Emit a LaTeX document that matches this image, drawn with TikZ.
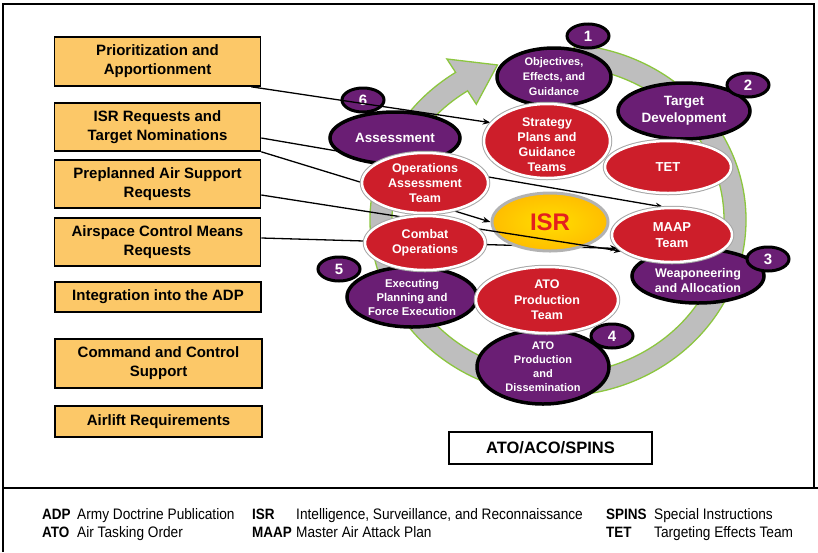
\documentclass[tikz,border=0pt]{standalone}
\usepackage{fontspec}
\setmainfont{Liberation Sans}
\newfontfamily\legendfont[FakeStretch=0.9]{Liberation Sans}
\usetikzlibrary{shapes.geometric,arrows.meta,calc}

\definecolor{boxfill}{RGB}{252,200,104}
\definecolor{purp}{RGB}{106,30,116}
\definecolor{teamred}{RGB}{205,30,42}
\definecolor{isryellow}{RGB}{255,200,0}
\definecolor{isrtext}{RGB}{228,32,30}
\definecolor{ringgray}{RGB}{190,190,190}
\definecolor{ringgreen}{RGB}{140,198,63}

\pgfdeclarelayer{ring}
\pgfdeclarelayer{low}
\pgfdeclarelayer{purple}
\pgfdeclarelayer{yel}
\pgfdeclarelayer{mid}
\pgfsetlayers{ring,low,purple,yel,mid,main}

\tikzset{
	inbox/.style={draw, line width=1.6, fill=boxfill, minimum width=206, minimum height=49,
		inner sep=0, align=center, font=\fontsize{15}{19}\selectfont\bfseries},
	stage/.style={ellipse, draw=black, line width=3.5, fill=purp, inner sep=0},
	stagetext/.style={text=white, align=center, inner sep=0, font=\bfseries\fontsize{12.5}{15}\selectfont},
	team/.style={ellipse, draw=white, line width=2.5, fill=teamred, inner sep=0,
		preaction={draw=black!35, line width=4.5}},
	teamtext/.style={text=white, align=center, inner sep=0, font=\bfseries\fontsize{12.5}{15}\selectfont},
	badge/.style={ellipse, draw=black, line width=3, fill=purp, minimum width=42, minimum height=24,
		inner sep=0, text=white, font=\bfseries\fontsize{15}{15}\selectfont},
	feed/.style={line width=1.3, -{Stealth[length=8pt,width=6pt]}},
	abbr/.style={anchor=base west, inner sep=0, font=\legendfont\bfseries\fontsize{15}{15}\selectfont},
	expl/.style={anchor=base west, inner sep=0, font=\legendfont\fontsize{15.2}{15}\selectfont}
}

\begin{document}
\begin{tikzpicture}[x=1pt,y=-1pt]
	\useasboundingbox (0,0) rectangle (818,552);
	% frame
		\draw[line width=2] (3,552) -- (3,4) -- (814,4) -- (814,488);
		\draw[line width=2.5] (3,488) -- (818,488);
	% cycle arrow
		\coordinate (ctr) at (558,220);
		\begin{pgfonlayer}{ring}
		\filldraw[fill=ringgray, draw=ringgreen, line width=1.3]
			($(ctr)+(275:188 and 176)$) arc[start angle=275, end angle=597, x radius=188, y radius=176]
			-- ($(ctr)+(597:204 and 192)$) -- ($(ctr)+(610:177 and 165)$) -- ($(ctr)+(597:150 and 138)$)
			-- ($(ctr)+(597:166 and 154)$) arc[start angle=597, end angle=275, x radius=166, y radius=154] -- cycle;
		\end{pgfonlayer}
	% input boxes
		\node[inbox] (prio) at (157.5,61.5) {Prioritization and\\Apportionment};
		\node[inbox, minimum height=48] (isrreq) at (157.5,127) {ISR Requests and\\Target Nominations};
		\node[inbox, minimum height=48] (preplan) at (157.5,184) {Preplanned Air Support\\Requests};
		\node[inbox, minimum height=48] (airspace) at (157.5,242) {Airspace Control Means\\Requests};
		\node[inbox, minimum height=30] (adp) at (158,297) {Integration into the ADP};
		\node[inbox, minimum width=207] (ctrl) at (158.5,363.5) {Command and Control\\Support};
		\node[inbox, minimum width=207, minimum height=31] (airlift) at (158.5,421.5) {Airlift Requirements};
	% phases
		\begin{pgfonlayer}{purple}
		\node[stage, minimum width=114, minimum height=58,
			label={[stagetext, font=\bfseries\fontsize{11}{15}\selectfont]center:{Objectives,\\Effects, and\\Guidance}}] (obj) at (554,77) {};
		\node[stage, minimum width=132, minimum height=56,
			label={[stagetext, font=\bfseries\fontsize{13.5}{17}\selectfont]center:{Target\\Development}}] (tgtdev) at (684,111) {};
		\node[stage, minimum width=132, minimum height=54,
			label={[stagetext, yshift=-5pt]center:{Weaponeering\\and Allocation}}] (weap) at (698,276) {};
		\node[stage, minimum width=132, minimum height=74,
			label={[stagetext, font=\bfseries\fontsize{11}{14}\selectfont]center:{ATO\\Production\\and\\Dissemination}}] (atodis) at (543,367) {};
		\node[stage, minimum width=130, minimum height=60,
			label={[stagetext, font=\bfseries\fontsize{11.3}{14}\selectfont]center:{Executing\\Planning and\\Force Execution}}] (exec) at (412,297) {};
		\node[stage, minimum width=130, minimum height=52,
			label={[stagetext, font=\bfseries\fontsize{13.5}{15}\selectfont]center:{Assessment}}] (assess) at (395,138) {};
		% numbers
		\node[badge] (b1) at (588,36) {1};
		\node[badge] (b2) at (748,85) {2};
		\node[badge] (b3) at (768,259) {3};
		\node[badge] (b4) at (612,336) {4};
		\node[badge] (b5) at (339,269) {5};
		\node[badge] (b6) at (363,100) {6};
		\end{pgfonlayer}
	% ISR
		\begin{pgfonlayer}{yel}
		\node[ellipse, draw=black!30, line width=3, inner color=isryellow!60!yellow, outer color=isryellow!85!orange,
			minimum width=116, minimum height=58, inner sep=0, text=isrtext,
			font=\bfseries\fontsize{24}{24}\selectfont] (isr) at (550,222) {ISR};
		\end{pgfonlayer}
	% teams
		\node[team, minimum width=126, minimum height=74,
			label={[teamtext, yshift=-4pt]center:{Strategy\\Plans and\\Guidance\\Teams}}] (strat) at (547,141) {};
		\node[team, minimum width=126, minimum height=52,
			label={[teamtext, font=\bfseries\fontsize{13}{15}\selectfont]center:{TET}}] (tet) at (668,167) {};
		\node[team, minimum width=126, minimum height=60,
			label={[teamtext]center:{Operations\\Assessment\\Team}}] (opsassess) at (425,183) {};
		\node[team, minimum width=120, minimum height=54,
			label={[teamtext]center:{Combat\\Operations}}] (combat) at (425,243) {};
		\node[team, minimum width=120, minimum height=54,
			label={[teamtext, font=\bfseries\fontsize{13}{16}\selectfont]center:{MAAP\\Team}}] (maap) at (672,235) {};
		\node[team, minimum width=142, minimum height=66,
			label={[teamtext, font=\bfseries\fontsize{12.5}{15.5}\selectfont]center:{ATO\\Production\\Team}}] (atoprod) at (547,300) {};
	% inputs into the cycle
		\begin{pgfonlayer}{low}
		\draw[feed] ([yshift=-11pt]isrreq.east) -- (maap.107);
		\draw[feed] ([yshift=4pt]airspace.east) -- (maap.194);
		\end{pgfonlayer}
		\begin{pgfonlayer}{mid}
		\draw[feed] ([xshift=-10pt]prio.south east) -- (strat.162);
		\draw[feed] (isrreq.south east) -- (isr.west);
		\draw[feed] ([yshift=-11pt]preplan.east) -- (maap.198);
		\end{pgfonlayer}
	% product
		\node[draw, line width=1.6, minimum width=203, minimum height=32, inner sep=0,
			font=\bfseries\fontsize{16.5}{16.5}\selectfont] (product) at (550.5,448) {ATO/ACO/SPINS};
	% legend
		\node[abbr] (lgadp) at (42,519) {ADP};
		\node[expl] (lgadpx) at (77,519) {Army Doctrine Publication};
		\node[abbr] (lgato) at (42,537) {ATO};
		\node[expl] (lgatox) at (77,537) {Air Tasking Order};
		\node[abbr] (lgisr) at (252,519) {ISR};
		\node[expl] (lgisrx) at (296,519) {Intelligence, Surveillance, and Reconnaissance};
		\node[abbr] (lgmaap) at (252,537) {MAAP};
		\node[expl] (lgmaapx) at (296,537) {Master Air Attack Plan};
		\node[abbr] (lgspins) at (606,519) {SPINS};
		\node[expl] (lgspinsx) at (654,519) {Special Instructions};
		\node[abbr] (lgtet) at (606,537) {TET};
		\node[expl] (lgtetx) at (654,537) {Targeting Effects Team};
\end{tikzpicture}
\end{document}
